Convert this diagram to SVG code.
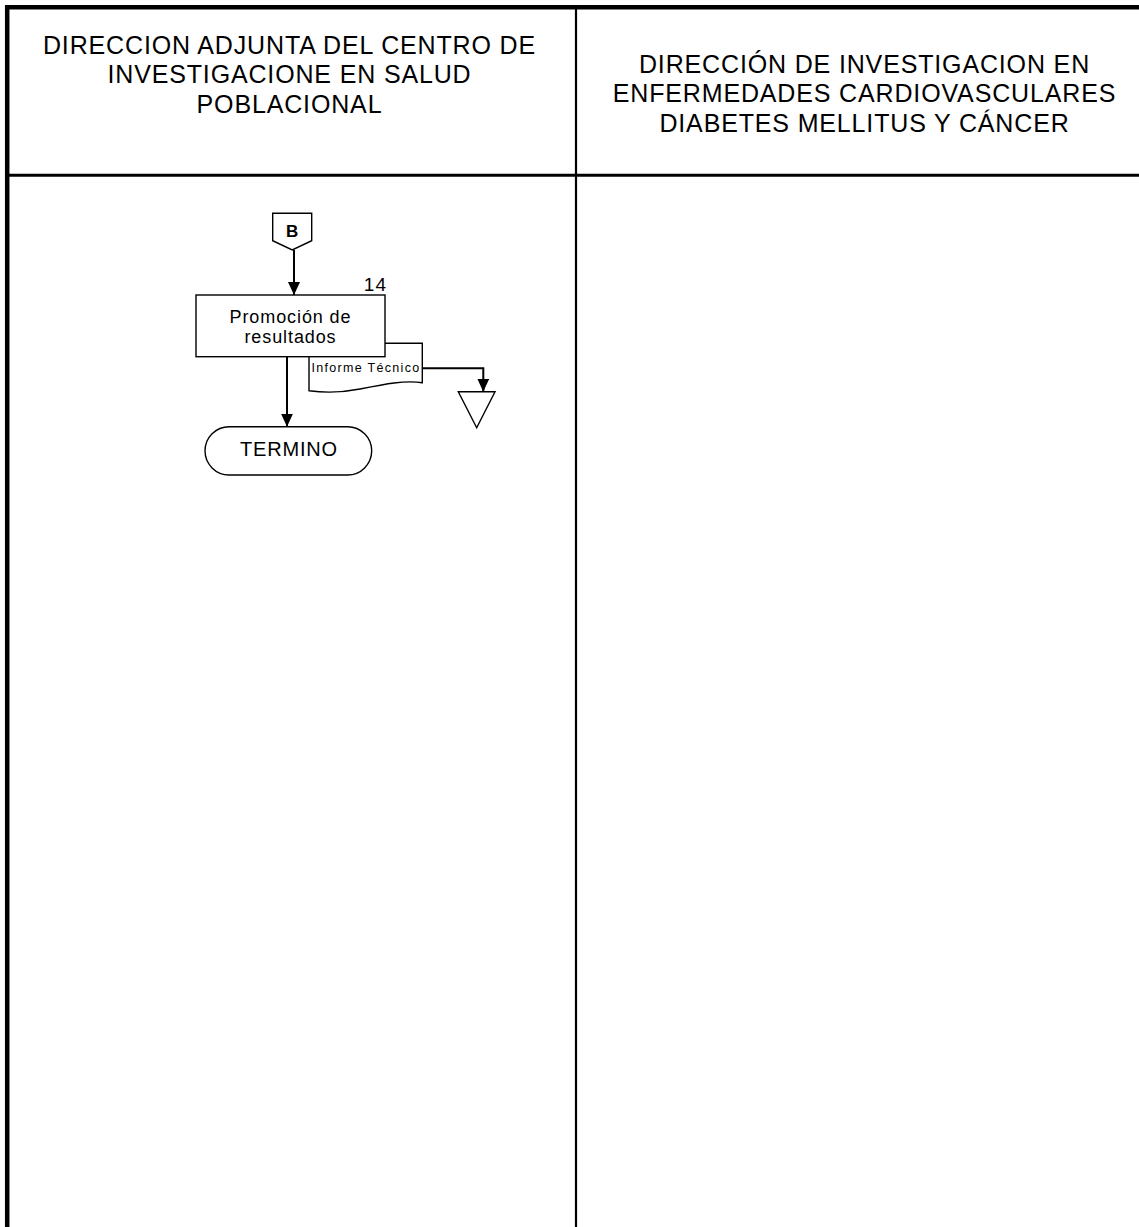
<svg xmlns="http://www.w3.org/2000/svg" width="1139" height="1227" viewBox="0 0 1139 1227">
<style>
.hdr{font-family:"Liberation Sans",Arial,sans-serif;font-size:25px;fill:#000;text-anchor:middle;letter-spacing:0.85px}
.lbl{font-family:"Liberation Sans",Arial,sans-serif;fill:#000;text-anchor:middle}
.shape{fill:#fff;stroke:#000;stroke-width:1.4}
.conn{fill:none;stroke:#000;stroke-width:2}
</style>
<defs>
<marker id="arr" markerUnits="userSpaceOnUse" markerWidth="13" markerHeight="12" refX="13" refY="6" orient="auto" viewBox="0 0 13 12">
<path d="M0,0 L13,6 L0,12 Z" fill="#000"/>
</marker>
</defs>
<rect x="0" y="0" width="1139" height="1227" fill="#fff"/>
<g id="lanes">
<line x1="5" y1="7.3" x2="1139" y2="7.3" stroke="#000" stroke-width="4.5"/>
<line x1="7.2" y1="5" x2="7.2" y2="1227" stroke="#000" stroke-width="4.5"/>
<line x1="7" y1="175.2" x2="1139" y2="175.2" stroke="#000" stroke-width="3"/>
<line x1="576" y1="7" x2="576" y2="1227" stroke="#000" stroke-width="2.2"/>
</g>
<g id="header-left">
<text class="hdr" x="289.5" y="53.5">DIRECCION ADJUNTA DEL CENTRO DE</text>
<text class="hdr" x="289.5" y="83">INVESTIGACIONE EN SALUD</text>
<text class="hdr" x="289.5" y="112.5">POBLACIONAL</text>
</g>
<g id="header-right">
<text class="hdr" x="864.5" y="72.5">DIRECCIÓN DE INVESTIGACION EN</text>
<text class="hdr" x="864.5" y="102">ENFERMEDADES CARDIOVASCULARES</text>
<text class="hdr" x="864.5" y="131.5">DIABETES MELLITUS Y CÁNCER</text>
</g>
<g id="connectors">
<line class="conn" x1="294" y1="250" x2="294" y2="295" marker-end="url(#arr)"/>
<line class="conn" x1="287" y1="356.7" x2="287" y2="426.7" marker-end="url(#arr)"/>
<path class="conn" d="M422.3,368.3 H483.3 V391.7" marker-end="url(#arr)"/>
</g>
<g id="connector-B">
<path class="shape" d="M272.7,213.3 H311.7 V240.7 L292.2,250 L272.7,240.7 Z"/>
<text class="lbl" x="292.2" y="237.3" font-size="17" font-weight="bold">B</text>
</g>
<g id="doc-informe">
<path class="shape" d="M309,343.3 H422.3 V382.7 C405,380 385,384 360,389 C340,393 322,392.5 309,390.7 Z"/>
<text class="lbl" x="366" y="371.7" font-size="12.5" letter-spacing="1.3">Informe Técnico</text>
</g>
<g id="step-14">
<rect class="shape" x="196" y="295" width="189" height="61.7"/>
<text class="lbl" x="290.5" y="323.3" font-size="18" letter-spacing="0.9">Promoción de</text>
<text class="lbl" x="290.5" y="343.3" font-size="18" letter-spacing="0.9">resultados</text>
<text class="lbl" x="387" y="290.7" font-size="19" style="text-anchor:end" letter-spacing="1">14</text>
</g>
<g id="merge-triangle">
<path class="shape" d="M458.3,391.7 H495 L476.7,427.7 Z"/>
</g>
<g id="termino">
<rect class="shape" x="205" y="426.7" width="166.7" height="48.3" rx="24.15" ry="24.15"/>
<text class="lbl" x="289" y="456" font-size="20" letter-spacing="0.8">TERMINO</text>
</g>
</svg>
